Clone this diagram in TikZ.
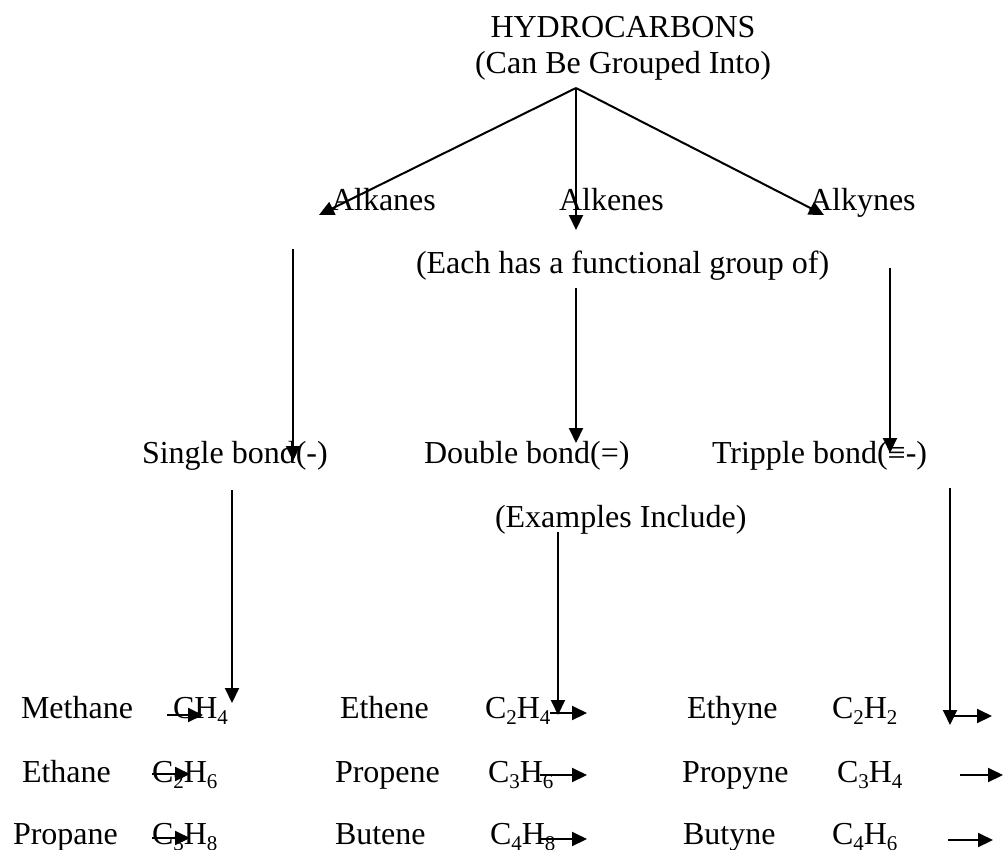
\documentclass[tikz,border=0pt]{standalone}
\usepackage{fontspec}
\setmainfont{Liberation Serif}
\usetikzlibrary{arrows.meta}
\newcommand\subs[1]{\raisebox{-0.2em}{\fontsize{21}{21}\selectfont #1}}
\tikzset{
  lbl/.style={inner sep=0pt, outer sep=0pt, anchor=base west, font=\fontsize{32}{38}\selectfont},
  ctr/.style={inner sep=0pt, outer sep=0pt, anchor=base, font=\fontsize{32}{38}\selectfont},
  arr/.style={line width=2pt, -{Triangle[length=15pt,width=14pt]}},
}
\begin{document}
\begin{tikzpicture}[x=1pt,y=-1pt]
\useasboundingbox (0,0) rectangle (1003,849);
% texts
\node[ctr] (title) at (623,37) {HYDROCARBONS};
\node[ctr] (sub) at (623,73) {(Can Be Grouped Into)};
\node[lbl] (alkanes) at (331,210) {Alkanes};
\node[lbl] (alkenes) at (559,210) {Alkenes};
\node[lbl] (alkynes) at (809,210) {Alkynes};
\node[lbl] (each) at (416,273) {(Each has a functional group of)};
\node[lbl] (single) at (142,463) {Single bond(-)};
\node[lbl] (double) at (424,463) {Double bond(=)};
\node[lbl] (tripple) at (712,463) {Tripple bond(≡-)};
\node[lbl] (examples) at (495,527) {(Examples Include)};
\node[lbl] (methane) at (21,718) {Methane};
\node[lbl] (ch4) at (173,718) {CH\subs{4}};
\node[lbl] (ethene) at (340,718) {Ethene};
\node[lbl] (c2h4) at (485,718) {C\subs{2}H\subs{4}};
\node[lbl] (ethyne) at (687,718) {Ethyne};
\node[lbl] (c2h2) at (832,718) {C\subs{2}H\subs{2}};
\node[lbl] (ethane) at (22,782) {Ethane};
\node[lbl] (c2h6) at (152,782) {C\subs{2}H\subs{6}};
\node[lbl] (propene) at (335,782) {Propene};
\node[lbl] (c3h6) at (488,782) {C\subs{3}H\subs{6}};
\node[lbl] (propyne) at (682,782) {Propyne};
\node[lbl] (c3h4) at (837,782) {C\subs{3}H\subs{4}};
\node[lbl] (propane) at (13,844) {Propane};
\node[lbl] (c3h8) at (152,844) {C\subs{3}H\subs{8}};
\node[lbl] (butene) at (335,844) {Butene};
\node[lbl] (c4h8) at (490,844) {C\subs{4}H\subs{8}};
\node[lbl] (butyne) at (683,844) {Butyne};
\node[lbl] (c4h6) at (832,844) {C\subs{4}H\subs{6}};
% coordinates
\coordinate (apex) at (576,88);
\coordinate (tAlkanes) at (319,215);
\coordinate (tAlkenes) at (576,230);
\coordinate (tAlkynes) at (824,215);
\coordinate (s1) at (293,249); \coordinate (e1) at (293,461);
\coordinate (s2) at (576,288); \coordinate (e2) at (576,443);
\coordinate (s3) at (890,268); \coordinate (e3) at (890,453);
\coordinate (s4) at (232,490); \coordinate (e4) at (232,703);
\coordinate (s5) at (558,532); \coordinate (e5) at (558,715);
\coordinate (s6) at (950,488); \coordinate (e6) at (950,725);
\coordinate (h1s) at (167,715); \coordinate (h1e) at (203,715);
\coordinate (h2s) at (152,774); \coordinate (h2e) at (190,774);
\coordinate (h3s) at (152,838); \coordinate (h3e) at (190,838);
\coordinate (h4s) at (550,713); \coordinate (h4e) at (587,713);
\coordinate (h5s) at (540,775); \coordinate (h5e) at (587,775);
\coordinate (h6s) at (540,839); \coordinate (h6e) at (587,839);
\coordinate (h7s) at (950,716); \coordinate (h7e) at (992,716);
\coordinate (h8s) at (960,775); \coordinate (h8e) at (1003,775);
\coordinate (h9s) at (948,840); \coordinate (h9e) at (993,840);
% arrows
\draw[arr] (apex) -- (tAlkanes);
\draw[arr] (apex) -- (tAlkenes);
\draw[arr] (apex) -- (tAlkynes);
\draw[arr] (s1) -- (e1);
\draw[arr] (s2) -- (e2);
\draw[arr] (s3) -- (e3);
\draw[arr] (s4) -- (e4);
\draw[arr] (s5) -- (e5);
\draw[arr] (s6) -- (e6);
\draw[arr] (h1s) -- (h1e);
\draw[arr] (h2s) -- (h2e);
\draw[arr] (h3s) -- (h3e);
\draw[arr] (h4s) -- (h4e);
\draw[arr] (h5s) -- (h5e);
\draw[arr] (h6s) -- (h6e);
\draw[arr] (h7s) -- (h7e);
\draw[arr] (h8s) -- (h8e);
\draw[arr] (h9s) -- (h9e);
\end{tikzpicture}
\end{document}
